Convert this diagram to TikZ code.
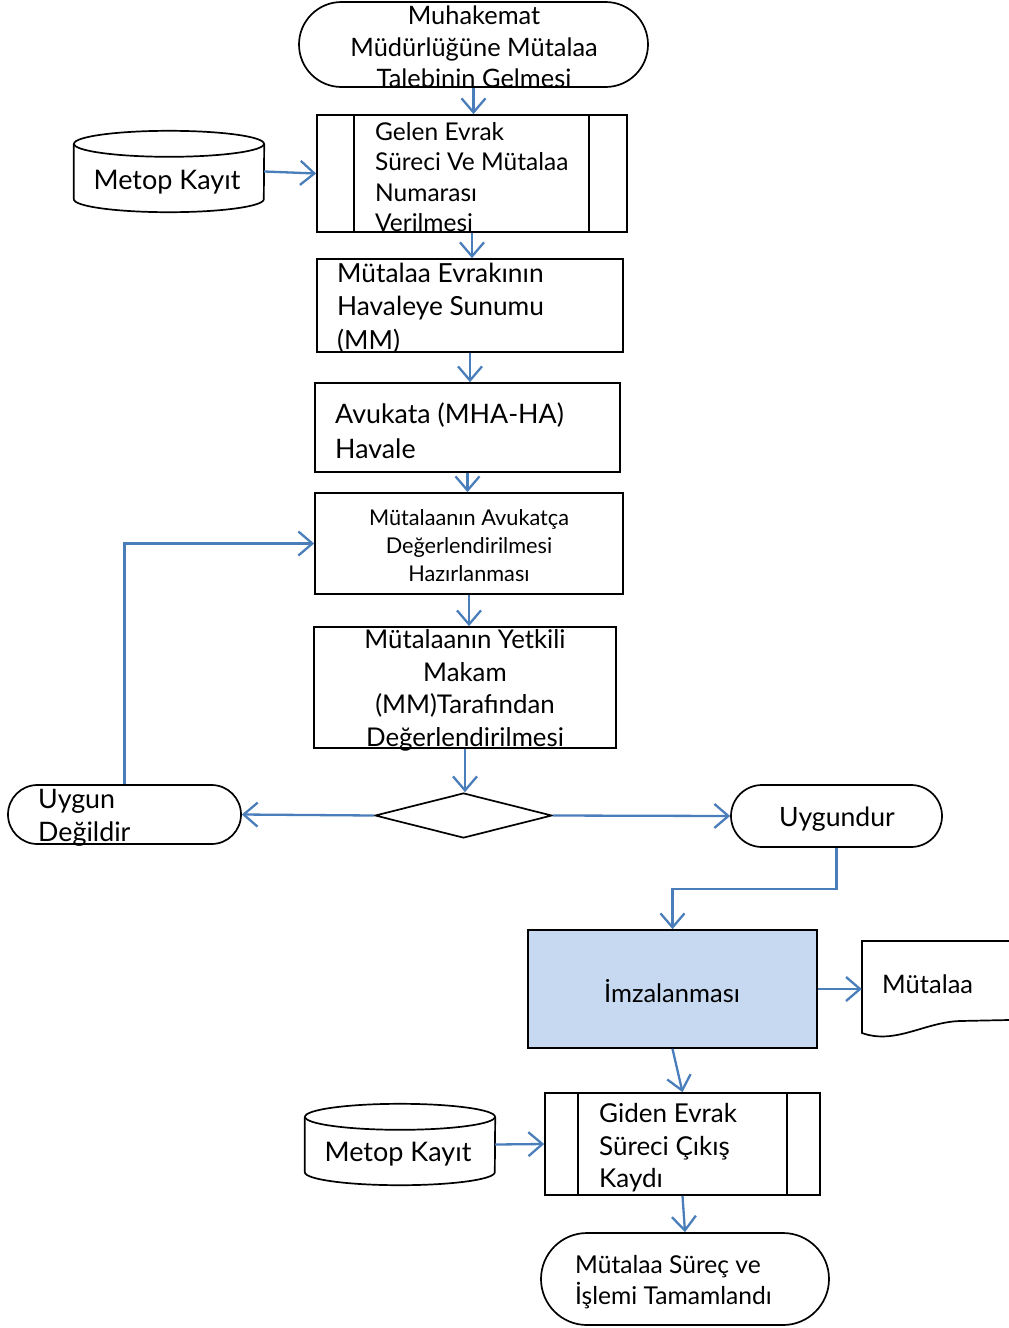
\documentclass[tikz,border=0pt]{standalone}
\usepackage{fontspec}
\setmainfont{Lato}
\usetikzlibrary{arrows.meta,shapes.misc,shapes.geometric,calc}
\definecolor{conn}{HTML}{4A7EBB}
\definecolor{imzafill}{HTML}{C6D9F0}
\begin{document}
\begin{tikzpicture}[x=1pt,y=-1pt,
  outline/.style={draw=black,line width=1.7pt},
  boxshape/.style={outline,rectangle,inner sep=0pt},
  termshape/.style={outline,rounded rectangle,inner sep=0pt},
  phantom/.style={rectangle,draw=none,inner sep=0pt},
  txt/.style={inner sep=0pt,align=left,anchor=west},
  ctxt/.style={inner sep=0pt,align=center},
  conn line/.style={draw=conn,line width=2.3pt,-{Straight Barb[length=14pt,width=24pt,line width=2.3pt]}}]
\useasboundingbox (0,0) rectangle (1009,1328);

% nodes
\node[termshape,minimum width=349,minimum height=85] (start) at (473.5,44.5) {};
\node[ctxt,font=\fontsize{25.4}{31.5}\selectfont] (tstart) at (474,47) {Muhakemat\\Müdürlüğüne Mütalaa\\Talebinin Gelmesi};

\node[boxshape,minimum width=310,minimum height=117] (pp1) at (472,173.5) {};
\draw[outline] ([xshift=38pt]pp1.north west) -- ([xshift=38pt]pp1.south west);
\draw[outline] ([xshift=-39pt]pp1.north east) -- ([xshift=-39pt]pp1.south east);
\node[txt,font=\fontsize{24.5}{30.5}\selectfont] (tpp1) at (375,177) {Gelen Evrak\\Süreci Ve Mütalaa\\Numarası\\Verilmesi};

\node[phantom,minimum width=190,minimum height=81] (cyl1) at (169,171.5) {};
\draw[outline] ([yshift=-13pt]cyl1.north) ellipse [x radius=95pt, y radius=13pt];
\draw[outline] ([yshift=-13pt]cyl1.north west) -- ([yshift=13pt]cyl1.south west) arc[start angle=180,end angle=360,x radius=95pt,y radius=13pt] -- ([yshift=-13pt]cyl1.north east);
\node[ctxt,font=\fontsize{27}{30}\selectfont] (tcyl1) at (167,182) {Metop Kayıt};

\node[boxshape,minimum width=306,minimum height=93] (b2) at (470,305.5) {};
\node[txt,font=\fontsize{26.3}{33.5}\selectfont] (tb2) at (337,308) {Mütalaa Evrakının\\Havaleye Sunumu\\(MM)};

\node[boxshape,minimum width=305,minimum height=89] (b3) at (467.5,427.5) {};
\node[txt,font=\fontsize{26.8}{34.5}\selectfont] (tb3) at (335,430.5) {Avukata (MHA-HA)\\Havale};

\node[boxshape,minimum width=308,minimum height=101] (b4) at (469,543.5) {};
\node[ctxt,font=\fontsize{21.7}{28}\selectfont] (tb4) at (469,546) {Mütalaanın Avukatça\\Değerlendirilmesi\\Hazırlanması};

\node[boxshape,minimum width=302,minimum height=121] (b5) at (465,687.5) {};
\node[ctxt,font=\fontsize{25.8}{32.5}\selectfont] (tb5) at (465,690.5) {Mütalaanın Yetkili\\Makam\\(MM)Tarafından\\Değerlendirilmesi};

\node[outline,diamond,inner sep=0pt,minimum width=177,minimum height=45] (dia) at (463.5,815.5) {};

\node[termshape,minimum width=233,minimum height=59] (ud) at (124.5,814.5) {};
\node[txt,font=\fontsize{26.8}{33}\selectfont] (tud) at (38,818) {Uygun\\Değildir};

\node[termshape,minimum width=211,minimum height=62] (uy) at (836.5,816) {};
\node[ctxt,font=\fontsize{26.6}{30}\selectfont] (tuy) at (837,819) {Uygundur};

\node[boxshape,fill=imzafill,minimum width=289,minimum height=118] (imza) at (672.5,989) {};
\node[ctxt,font=\fontsize{25.5}{30}\selectfont] (timza) at (672,991) {İmzalanması};

\node[phantom,minimum width=147,minimum height=96] (doc) at (935.5,989) {};
\draw[outline] (1009,941) -- (862,941) -- (862,1033) .. controls (895,1045) and (925,1022) .. (960,1021) -- (1009,1020);
\node[txt,font=\fontsize{25.5}{30}\selectfont] (tdoc) at (882,984) {Mütalaa};

\node[boxshape,minimum width=275,minimum height=102] (pp2) at (682.5,1144) {};
\draw[outline] ([xshift=34pt]pp2.north west) -- ([xshift=34pt]pp2.south west);
\draw[outline] ([xshift=-34pt]pp2.north east) -- ([xshift=-34pt]pp2.south east);
\node[txt,font=\fontsize{26}{32.5}\selectfont] (tpp2) at (599,1148) {Giden Evrak\\Süreci Çıkış\\Kaydı};

\node[phantom,minimum width=190,minimum height=81] (cyl2) at (400,1144.5) {};
\draw[outline] ([yshift=-13pt]cyl2.north) ellipse [x radius=95pt, y radius=13pt];
\draw[outline] ([yshift=-13pt]cyl2.north west) -- ([yshift=13pt]cyl2.south west) arc[start angle=180,end angle=360,x radius=95pt,y radius=13pt] -- ([yshift=-13pt]cyl2.north east);
\node[ctxt,font=\fontsize{27}{30}\selectfont] (tcyl2) at (398,1154) {Metop Kayıt};

\node[termshape,minimum width=288,minimum height=92] (fin) at (685,1279) {};
\node[txt,font=\fontsize{24.6}{31}\selectfont] (tfin) at (575,1282.5) {Mütalaa Süreç ve\\İşlemi Tamamlandı};

% connectors
\draw[conn line] (start.south) -- (start.south |- pp1.north);
\draw[conn line] (cyl1.east) -- (pp1.west);
\draw[conn line] (pp1.south) -- (pp1.south |- b2.north);
\draw[conn line] (b2.south) -- (b2.south |- b3.north);
\draw[conn line] (b3.south) -- (b3.south |- b4.north);
\draw[conn line] (b4.south) -- (b4.south |- b5.north);
\draw[conn line] (b5.south) -- (b5.south |- dia.north);
\draw[conn line] (dia.west) -- (ud.east);
\draw[conn line] (dia.east) -- (uy.west);
\draw[conn line] (ud.north) |- (b4.west);
\draw[conn line] (uy.south) -- ++(0,41) -| (imza.north);
\draw[conn line] (imza.east) -- (doc.west);
\draw[conn line] (imza.south) -- (pp2.north);
\draw[conn line] (cyl2.east) -- (pp2.west);
\draw[conn line] (pp2.south) -- (fin.north);
\end{tikzpicture}
\end{document}
